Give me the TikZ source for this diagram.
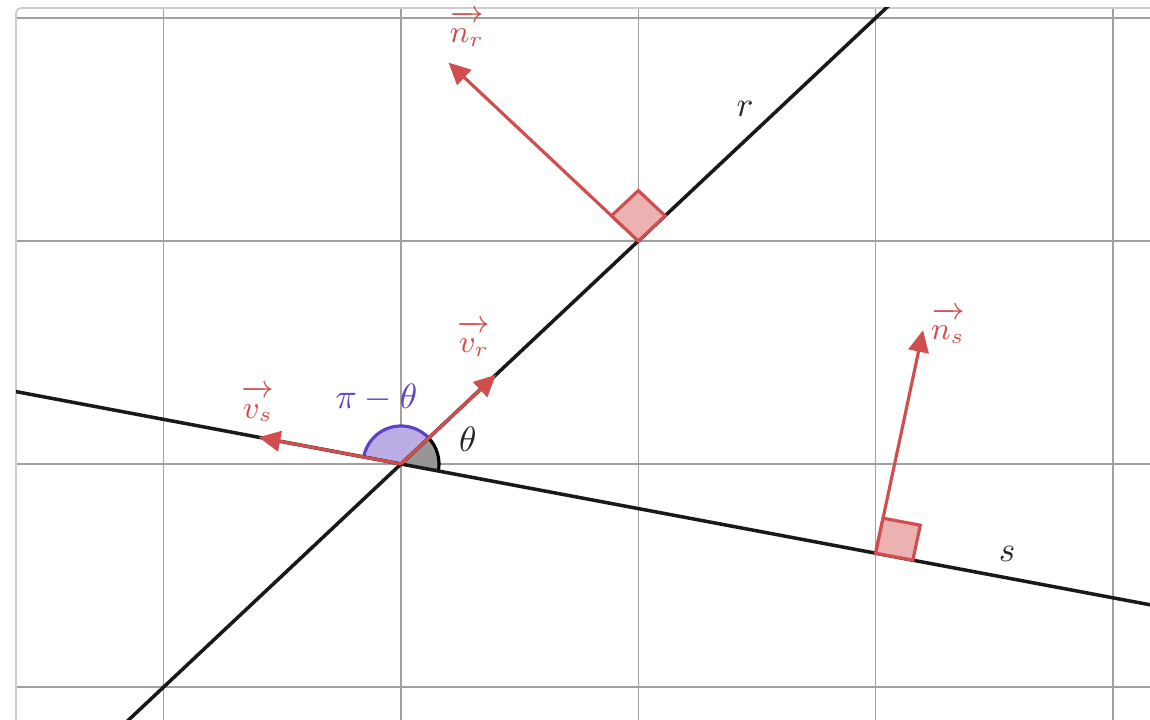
\documentclass[tikz,border=0pt]{standalone}
\usepackage{amsmath}
\usetikzlibrary{arrows.meta}
\definecolor{vecred}{RGB}{208,78,78}
\definecolor{sqfill}{RGB}{236,178,178}
\definecolor{angpurple}{RGB}{95,65,200}
\definecolor{angfill}{RGB}{188,174,228}
\definecolor{gridgray}{RGB}{160,160,160}
\definecolor{framegray}{RGB}{205,205,205}
\definecolor{anggray}{RGB}{150,150,150}
\newcommand\veclabel[1]{$\overrightarrow{\rule{0pt}{5.8pt}#1}$}
\tikzset{
  gridline/.style={draw=gridgray, line width=0.45pt},
  frameline/.style={draw=framegray, line width=0.5pt, rounded corners=0.05cm},
  mainline/.style={draw=black!90, line width=1pt},
  vec/.style={draw=vecred, line width=0.9pt, -{Triangle[length=6.2pt,width=5.8pt]}},
  rightsq/.style={draw=vecred, fill=sqfill, line width=0.9pt, line join=miter},
  vlab/.style={text=vecred, inner sep=0pt, anchor=base, font=\small},
  lnlab/.style={text=black!85, inner sep=0pt, anchor=base, font=\normalsize},
}
\begin{document}
\begin{tikzpicture}[x={(2.373cm,0)}, y={(0,2.23cm)}]
\useasboundingbox (-1.6898,-1.1480) rectangle (3.1563,2.0807);
% grid
\foreach \i in {-1,0,1,2,3} \draw[gridline] (\i,-1.2) -- (\i,2.045);
\foreach \j in {-1,0,1,2} \draw[gridline] (-1.622,\j) -- (3.2,\j);
\draw[frameline] (-1.622,-1.2) -- (-1.622,2.045) -- (3.2,2.045);
% points
\coordinate (O) at (0,0);
\coordinate (P) at (1,1);
\coordinate (Q) at (2,-0.4);
\coordinate (vr) at (0.4,0.4);
\coordinate (vs) at (-0.6,0.12);
\coordinate (nrt) at (0.2,1.8);
\coordinate (nst) at (2.2,0.6);
% angle sectors
\fill[angfill] (O) -- ++(43.22:0.38cm) arc[start angle=43.22,end angle=169.36,radius=0.38cm] -- cycle;
\draw[angpurple, line width=0.9pt] ([shift={(43.22:0.38cm)}]O) arc[start angle=43.22,end angle=169.36,radius=0.38cm];
\fill[anggray] (O) -- ++(-10.64:0.38cm) arc[start angle=-10.64,end angle=43.22,radius=0.38cm] -- cycle;
\draw[black, line width=0.9pt] ([shift={(-10.64:0.38cm)}]O) arc[start angle=-10.64,end angle=43.22,radius=0.38cm];
% lines r and s
\begin{scope}
\clip (-1.622,-1.148) rectangle (3.1563,2.045);
\coordinate (r1) at (-1.3,-1.3);
\coordinate (r2) at (2.2,2.2);
\coordinate (s1) at (-1.8,0.36);
\coordinate (s2) at (3.3,-0.66);
\draw[mainline] (r1) -- (r2);
\draw[mainline] (s1) -- (s2);
\end{scope}
% vectors
\draw[vec] (O) -- (vr);
\draw[vec] (O) -- (vs);
\draw[vec] (P) -- (nrt);
\draw[vec] (Q) -- (nst);
% right angle squares
\filldraw[rightsq] (P) -- ++(0.113,0.113) -- ++(-0.113,0.113) -- ++(-0.113,-0.113) -- cycle;
\filldraw[rightsq] (Q) -- ++(0.1569,-0.0314) -- ++(0.0314,0.1569) -- ++(-0.1569,0.0314) -- cycle;
% labels
\node[vlab] (lnr) at (0.278,1.888) {\veclabel{n_r}};
\node[vlab] (lvr) at (0.308,0.498) {\veclabel{v_r}};
\node[vlab] (lvs) at (-0.603,0.206) {\veclabel{v_s}};
\node[vlab] (lns) at (2.305,0.556) {\veclabel{n_s}};
\node[text=angpurple, inner sep=0pt, anchor=base] (lpt) at (-0.103,0.251) {$\pi-\theta$};
\node[lnlab] (lth) at (0.282,0.054) {$\theta$};
\node[lnlab] (lr) at (1.450,1.556) {$r$};
\node[lnlab] (ls) at (2.554,-0.439) {$s$};
\end{tikzpicture}
\end{document}
